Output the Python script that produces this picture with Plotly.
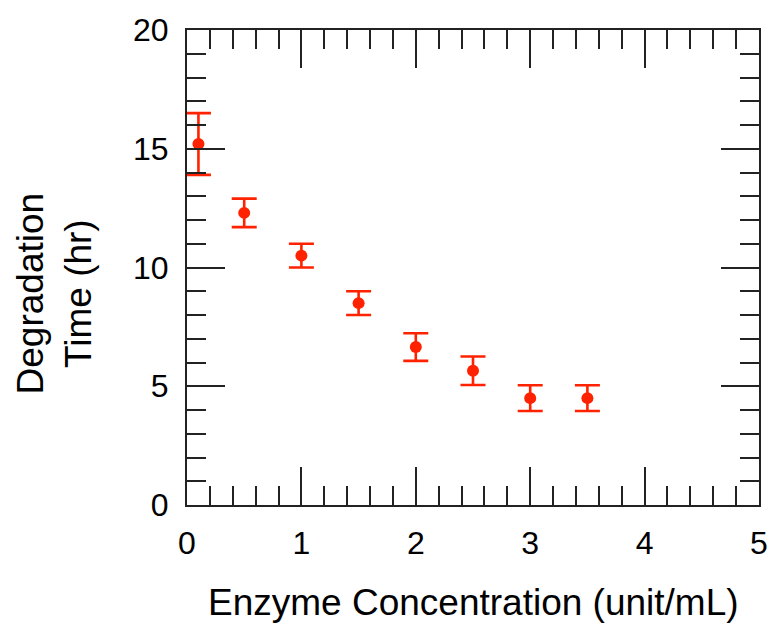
import plotly.graph_objects as go

# Data
enzyme_conc = [0.1, 0.5, 1.0, 1.5, 2.0, 2.5, 3.0, 3.5]
degradation_time = [15.2, 12.3, 10.5, 8.5, 6.65, 5.65, 4.5, 4.5]
error = [1.3, 0.6, 0.5, 0.5, 0.58, 0.6, 0.54, 0.54]

x_title = "Enzyme Concentration (unit/mL)"
y_title = "Degradation<br>Time (hr)"

RED = "#ff2200"
FONT = "Liberation Sans, Arial, sans-serif"

fig = go.Figure()
fig.add_trace(go.Scatter(
    x=enzyme_conc, y=degradation_time, mode="markers",
    marker=dict(color=RED, size=12),
    error_y=dict(type="data", array=error, visible=True,
                 color=RED, thickness=2.6, width=12.5),
    showlegend=False,
))

axis_common = dict(
    showline=True, linecolor="#222222", linewidth=2,
    mirror="ticks", ticks="inside", tickcolor="#222222",
    tickwidth=2, ticklen=38, showgrid=False, zeroline=False,
    automargin=False,
    tickfont=dict(family=FONT, size=32, color="black"),
)

fig.update_xaxes(range=[0, 5], dtick=1, tick0=0,
                 minor=dict(dtick=0.2, ticks="inside", ticklen=19,
                            tickwidth=2, tickcolor="#222222", showgrid=False),
                 ticklabelstandoff=9,
                 **axis_common)
fig.update_yaxes(range=[0, 20], dtick=5, tick0=0,
                 minor=dict(dtick=1, ticks="inside", ticklen=19,
                            tickwidth=2, tickcolor="#222222", showgrid=False),
                 ticklabelstandoff=10,
                 **axis_common)

fig.add_annotation(text=x_title, xref="paper", yref="paper",
                   x=0.5, y=-0.205, xanchor="center", yanchor="middle",
                   showarrow=False,
                   font=dict(family=FONT, size=37, color="black"))
fig.add_annotation(text=y_title, xref="paper", yref="paper",
                   x=-0.232, y=0.446, xanchor="center", yanchor="middle",
                   textangle=-90, showarrow=False,
                   font=dict(family=FONT, size=37, color="black"))

fig.update_layout(
    width=770, height=624,
    margin=dict(l=187, r=11, t=30, b=119),
    plot_bgcolor="white", paper_bgcolor="white",
)

# remove the default page margin so the figure fills the window exactly
fig.write_html("out.html",
               config={"displayModeBar": False},
               post_script="document.body.style.margin='0px';"
                           "document.body.style.overflow='hidden';")
